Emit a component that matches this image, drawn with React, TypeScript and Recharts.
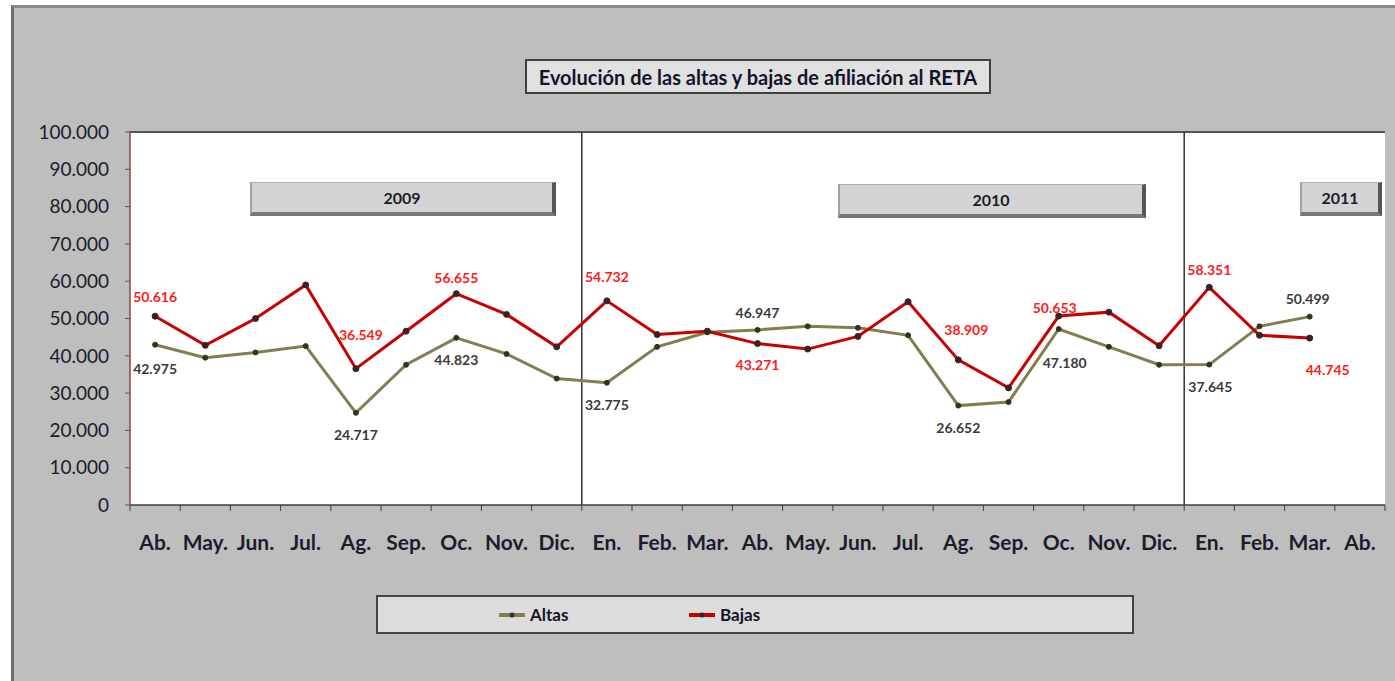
import {
  LineChart,
  Line,
  XAxis,
  YAxis,
  CartesianGrid,
  ReferenceLine,
  Legend,
} from 'recharts';

const months = [
  'Ab.', 'May.', 'Jun.', 'Jul.', 'Ag.', 'Sep.', 'Oc.', 'Nov.', 'Dic.',
  'En.', 'Feb.', 'Mar.', 'Ab.', 'May.', 'Jun.', 'Jul.', 'Ag.', 'Sep.', 'Oc.', 'Nov.', 'Dic.',
  'En.', 'Feb.', 'Mar.', 'Ab.',
];
const years = [
  2009, 2009, 2009, 2009, 2009, 2009, 2009, 2009, 2009,
  2010, 2010, 2010, 2010, 2010, 2010, 2010, 2010, 2010, 2010, 2010, 2010,
  2011, 2011, 2011, 2011,
];
const altas = [
  42975, 39500, 40900, 42600, 24717, 37600, 44823, 40500, 33900,
  32775, 42400, 46300, 46947, 47900, 47500, 45500, 26652, 27600, 47180, 42400, 37600,
  37645, 47900, 50499, null,
];
const bajas = [
  50616, 42800, 50000, 59000, 36549, 46600, 56655, 51100, 42400,
  54732, 45700, 46600, 43271, 41800, 45200, 54500, 38909, 31400, 50653, 51700, 42700,
  58351, 45500, 44745, null,
];
const yTicks = [0, 10000, 20000, 30000, 40000, 50000, 60000, 70000, 80000, 90000, 100000];

const data = months.map((m, i) => ({
  key: `${m} ${years[i]}`,
  mes: m,
  altas: altas[i],
  bajas: bajas[i],
}));

// which points carry a value label, and where it sits relative to the point [dx, dy]
const altasLabels: Record<number, [number, number]> = {
  0: [0, 24], 4: [0, 22], 6: [0, 22], 9: [0, 22], 12: [0, -17],
  16: [0, 22], 18: [6, 33], 21: [1, 22], 23: [-2, -18],
};
const bajasLabels: Record<number, [number, number]> = {
  0: [0, -20], 4: [5, -34], 6: [0, -16], 9: [0, -24], 12: [0, 21],
  16: [8, -30], 18: [-4, -9], 21: [0, -18], 23: [18, 31],
};

const FONT = 'Lato, "DejaVu Sans", sans-serif';
const PLOT_LEFT = 130;
const PLOT_RIGHT = 1385;
const PLOT_BOTTOM = 505;
const BAND = (PLOT_RIGHT - PLOT_LEFT) / months.length;

const fmt = (v: number) => String(v).replace(/\B(?=(\d{3})+(?!\d))/g, '.');

const makeLabel = (placing: Record<number, [number, number]>, color: string) =>
  (props: any) => {
    const { x, y, index, value } = props;
    const p = placing[index];
    if (!p || value == null) return <g key={`l${index}`} />;
    return (
      <text
        key={`l${index}`}
        x={x + p[0]}
        y={y + p[1]}
        textAnchor="middle"
        dominantBaseline="central"
        fill={color}
        fontSize={14}
        fontWeight="bold"
        fontFamily={FONT}
      >
        {fmt(value)}
      </text>
    );
  };

const MonthTick = (props: any) => {
  const { x, index, payload } = props;
  const mes = payload.value.split(' ')[0];
  return (
    <g>
      <line x1={x - BAND / 2} x2={x - BAND / 2} y1={PLOT_BOTTOM} y2={PLOT_BOTTOM + 6} stroke="#404040" />
      {index === months.length - 1 && (
        <line x1={x + BAND / 2} x2={x + BAND / 2} y1={PLOT_BOTTOM} y2={PLOT_BOTTOM + 6} stroke="#404040" />
      )}
      <text
        x={x}
        y={PLOT_BOTTOM + 36}
        textAnchor="middle"
        dominantBaseline="central"
        fill="#1c1c2c"
        fontSize={21}
        fontWeight="bold"
        fontFamily={FONT}
      >
        {mes}
      </text>
    </g>
  );
};

const LegendBox = () => {
  const items = [
    { name: 'Altas', color: '#847d4e', dot: '#333322', left: 121 },
    { name: 'Bajas', color: '#c80000', dot: '#3b2222', left: 311 },
  ];
  return (
    <div
      style={{
        position: 'relative',
        width: 758,
        height: 39,
        boxSizing: 'border-box',
        background: '#dcdcdc',
        border: '2px solid #444',
        fontFamily: FONT,
      }}
    >
      {items.map((it) => (
        <div key={it.name} style={{ position: 'absolute', left: it.left, top: 7, display: 'flex', alignItems: 'center' }}>
          <svg width={26} height={20}>
            <line x1={0} x2={26} y1={10} y2={10} stroke={it.color} strokeWidth={4} />
            <circle cx={13} cy={10} r={2.5} fill={it.dot} />
          </svg>
          <span style={{ marginLeft: 5, fontSize: 17, fontWeight: 'bold', color: '#141428' }}>{it.name}</span>
        </div>
      ))}
    </div>
  );
};

const yearBox = (left: number, top: number, width: number, text: string) => (
  <div
    style={{
      position: 'absolute',
      left,
      top,
      width,
      height: 34,
      boxSizing: 'border-box',
      background: '#d4d4d4',
      borderTop: '1px solid #b0b0b0',
      borderLeft: '2px solid #a0a0a0',
      borderRight: '4px solid #555',
      borderBottom: '4px solid #777',
      display: 'flex',
      alignItems: 'center',
      justifyContent: 'center',
      fontFamily: FONT,
      fontWeight: 'bold',
      fontSize: 16,
      color: '#1c1c2c',
    }}
  >
    {text}
  </div>
);

export default function App() {
  return (
    <div style={{ position: 'absolute', left: 0, top: 0, width: 1395, height: 681, overflow: 'hidden', background: '#fff' }}>
      <div
        style={{
          position: 'absolute',
          left: 11,
          top: 5,
          width: 1400,
          height: 700,
          background: '#bebebe',
          borderLeft: '3px solid #6e6e6e',
          borderTop: '3px solid #8a8a8a',
        }}
      />
      <div style={{ position: 'absolute', left: 0, top: 0 }}>
        <LineChart
          width={1395}
          height={681}
          data={data}
          margin={{ top: 132, right: 10, bottom: 116, left: 0 }}
        >
          <CartesianGrid horizontal={false} vertical={false} fill="#ffffff" />
          <XAxis
            dataKey="key"
            scale="band"
            interval={0}
            height={60}
            axisLine={{ stroke: '#404040', strokeWidth: 1.5 }}
            tickLine={false}
            tick={<MonthTick />}
          />
          <YAxis
            width={130}
            domain={[0, 100000]}
            ticks={yTicks}
            interval={0}
            tickFormatter={fmt}
            axisLine={{ stroke: '#8b4444', strokeWidth: 1.5 }}
            tickLine={{ stroke: '#8b4444' }}
            tickSize={5}
            tickMargin={16}
            tick={{ fill: '#1c1c2c', fontSize: 19, fontFamily: FONT }}
          />
          <ReferenceLine y={100000} stroke="#555" strokeWidth={2} />
          <ReferenceLine x={data[data.length - 1].key} position="end" stroke="#8a8a8a" strokeWidth={3} />
          <ReferenceLine x={data[9].key} position="start" stroke="#333" strokeWidth={1.5} />
          <ReferenceLine x={data[21].key} position="start" stroke="#333" strokeWidth={1.5} />
          <Legend
            layout="horizontal"
            verticalAlign="middle"
            align="center"
            wrapperStyle={{ left: 376, top: 595, width: 758, height: 39 }}
            content={() => <LegendBox />}
          />
          <Line
            dataKey="altas"
            name="Altas"
            stroke="#847d4e"
            strokeWidth={3}
            dot={{ r: 2.5, fill: '#333322', stroke: '#333322', strokeWidth: 1 }}
            activeDot={false}
            isAnimationActive={false}
            label={makeLabel(altasLabels, '#3a3a3a')}
          />
          <Line
            dataKey="bajas"
            name="Bajas"
            stroke="#c80000"
            strokeWidth={3}
            dot={{ r: 3, fill: '#3b2222', stroke: '#3b2222', strokeWidth: 1 }}
            activeDot={false}
            isAnimationActive={false}
            label={makeLabel(bajasLabels, '#ff1a1a')}
          />
        </LineChart>
      </div>
      <div
        style={{
          position: 'absolute',
          left: 525,
          top: 59,
          width: 466,
          height: 35,
          boxSizing: 'border-box',
          background: '#e0e0e0',
          border: '2px solid #404040',
          display: 'flex',
          alignItems: 'center',
          justifyContent: 'center',
          fontFamily: FONT,
          fontWeight: 'bold',
          fontSize: 20,
          color: '#141428',
          whiteSpace: 'nowrap',
        }}
      >
        Evolución de las altas y bajas de afiliación al RETA
      </div>
      {yearBox(250, 182, 306, '2009')}
      {yearBox(838, 184, 308, '2010')}
      {yearBox(1300, 182, 82, '2011')}
    </div>
  );
}
